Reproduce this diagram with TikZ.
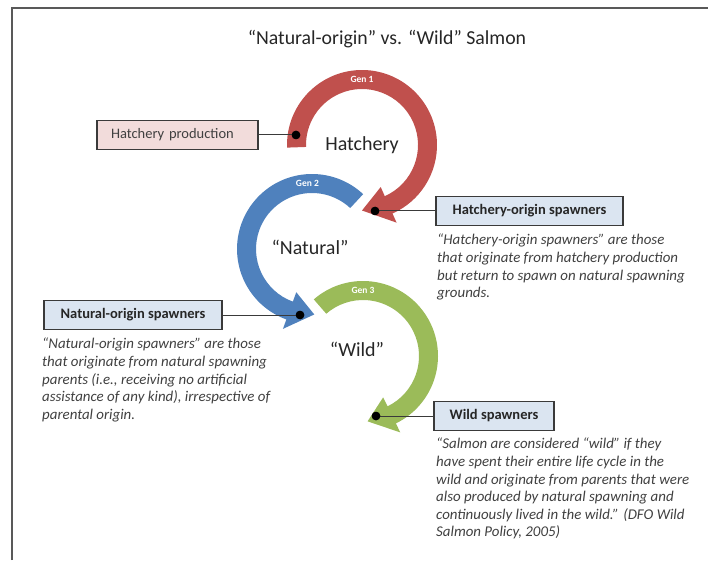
\documentclass[tikz,border=0pt]{standalone}
\usepackage{fontspec}
\setmainfont{Carlito}
\usetikzlibrary{calc}
\definecolor{cred}{HTML}{C0504D}
\definecolor{cblue}{HTML}{4F81BD}
\definecolor{cgreen}{HTML}{9BBB59}
\definecolor{pinkfill}{HTML}{F2DCDB}
\definecolor{bluefill}{HTML}{DBE5F1}
\definecolor{darktxt}{HTML}{262626}
\definecolor{desctxt}{HTML}{404040}
\definecolor{boxline}{HTML}{3A3A3A}
\newcommand{\bandarrow}[5]{%
  \fill[#5] ($(#1)+(#2:75)$) arc[start angle=#2,end angle=#3,radius=75]
    -- ($(#1)+(#3:85)$) -- ($(#1)+(#4:65.5)$) -- ($(#1)+(#3:46)$)
    -- ($(#1)+(#3:56)$) arc[start angle=#3,end angle=#2,radius=56] -- cycle;}
\begin{document}
\begin{tikzpicture}[x=1pt,y=1pt,
  labelbox/.style={draw=boxline,line width=1.4pt,minimum height=29pt,inner sep=0pt,
    font=\fontsize{14.5}{16}\selectfont\bfseries,text=darktxt,fill=bluefill},
  desc/.style={anchor=north west,inner sep=0pt,align=left,text=desctxt,
    font=\fontsize{14.9}{17.6}\selectfont\itshape},
  bigword/.style={text=darktxt,font=\fontsize{20}{23}\selectfont},
  genlabel/.style={text=white,font=\fontsize{9.5}{10}\selectfont\bfseries},
  spot/.style={circle,fill=black,inner sep=0pt,minimum size=8.5pt},
  link/.style={draw=boxline,line width=1pt}]
\useasboundingbox (0,0) rectangle (708,560);
\draw[gray!70!black,line width=1.5pt] (12,0) -- (12,552) -- (708,552);
\node[text=darktxt,font=\fontsize{19.8}{23}\selectfont] (title) at (387,521) {“Natural-origin” vs. “Wild” Salmon};
% curved arrows
\bandarrow{362,415}{182}{-66}{-90}{cred}
\bandarrow{312,311}{47}{250}{272}{cblue}
\bandarrow{363,204}{131}{-64}{-86}{cgreen}
\node[genlabel] (g1) at ($(362,415)+(90:65.5)$) {Gen 1};
\node[genlabel] (g2) at ($(312,311)+(94:65.5)$) {Gen 2};
\node[genlabel] (g3) at ($(363,204)+(90:65.5)$) {Gen 3};
\node[bigword] (hatch) at (362,415) {Hatchery};
\node[bigword] (nat) at (310,313) {“Natural”};
\node[bigword] (wild) at (357,211) {“Wild”};
% boxes
\node[labelbox,fill=pinkfill,minimum width=161pt,text width=133pt,align=left,
  font=\fontsize{14.5}{16}\selectfont,text=desctxt] (hp) at (177.5,425) {Hatchery production};
\node[labelbox,minimum width=187pt] (ho) at (529.5,349) {Hatchery-origin spawners};
\node[labelbox,minimum width=178pt] (no) at (133,245) {Natural-origin spawners};
\node[labelbox,minimum width=120pt] (ws) at (494,144) {Wild spawners};
% dots
\node[spot] (d1) at (296,425) {};
\node[spot] (d2) at (375,349) {};
\node[spot] (d3) at (300,245) {};
\node[spot] (d4) at (376,144) {};
\draw[link] (hp.east) -- (d1.center);
\draw[link] (d2.center) -- (ho.west);
\draw[link] (no.east) -- (d3.center);
\draw[link] (d4.center) -- (ws.west);
\node[spot] at (d1) {};
\node[spot] at (d2) {};
\node[spot] at (d3) {};
\node[spot] at (d4) {};
% descriptions
\node[desc] (hod) at (437,326) {“Hatchery-origin spawners” are those\\that originate from hatchery production\\but return to spawn on natural spawning\\grounds.};
\node[desc] (nod) at (42,222) {“Natural-origin spawners” are those\\that originate from natural spawning\\parents (i.e., receiving no artificial\\assistance of any kind), irrespective of\\parental origin.};
\node[desc] (wsd) at (436,122) {“Salmon are considered “wild” if they\\have spent their entire life cycle in the\\wild and originate from parents that were\\also produced by natural spawning and\\continuously lived in the wild.” (DFO Wild\\Salmon Policy, 2005)};
\end{tikzpicture}
\end{document}
